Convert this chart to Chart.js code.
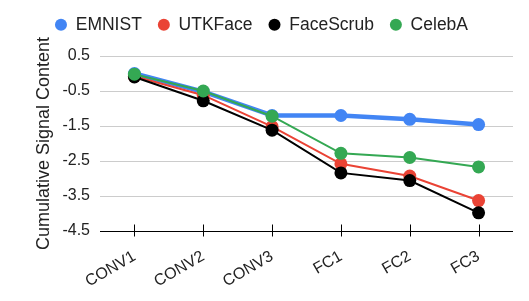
<!DOCTYPE html>
<html><head><meta charset="utf-8">
<script src="https://cdn.jsdelivr.net/npm/chart.js@4.4.0/dist/chart.umd.min.js"></script>
<style>html,body{margin:0;padding:0;background:#fff}#wrap{width:529px;height:301px}</style>
</head><body><div id="wrap"><canvas id="c"></canvas></div>
<script>
const categories = ["CONV1","CONV2","CONV3","FC1","FC2","FC3"];
const emnist = [0.0, -0.52, -1.2, -1.2, -1.31, -1.46];
const utkface = [-0.08, -0.62, -1.52, -2.58, -2.93, -3.63];
const facescrub = [-0.1, -0.78, -1.62, -2.84, -3.06, -3.98];
const celeba = [-0.02, -0.5, -1.22, -2.28, -2.4, -2.67];
const yTicks = [0.5, -0.5, -1.5, -2.5, -3.5, -4.5];

const FONT = 'Liberation Sans, Arial, sans-serif';
function ds(label, data, color, width, order){
  return {label, data, borderColor: color, backgroundColor: color, pointBackgroundColor: color,
    pointBorderColor: color, borderWidth: width, pointRadius: 6.5, pointBorderWidth: 0, pointHoverRadius: 6.5, tension: 0, order};
}
const layoutFix = {
  id: 'layoutFix',
  afterInit(chart){
    const lg = chart.legend;
    if (lg && !lg._patched){
      const orig = lg.fit;
      lg.fit = function(){ orig.call(this); this.height = 56; };
      lg._patched = true;
    }
  },
  afterLayout(chart){
    if (chart.legend) chart.legend.right = chart.width - 6;
  },
  afterDatasetsDraw(chart){
    const x = chart.scales.x, y = chart.scales.y, ctx = chart.ctx;
    ctx.save(); ctx.strokeStyle = '#000'; ctx.lineWidth = 1;
    const yb = Math.round(y.getPixelForValue(-4.5)) + 0.5;
    categories.forEach((c,i)=>{ const px = Math.round(x.getPixelForValue(i)) + 0.5;
      ctx.beginPath(); ctx.moveTo(px, yb-7); ctx.lineTo(px, yb+5); ctx.stroke(); });
    ctx.beginPath(); ctx.moveTo(x.left, yb); ctx.lineTo(x.right, yb); ctx.stroke();
    ctx.restore();
  }
};
new Chart(document.getElementById('c'), {
  type: 'line',
  data: { labels: categories, datasets: [
    ds('EMNIST', emnist, '#4285F4', 4.5, 4),
    ds('UTKFace', utkface, '#EA4335', 2, 3),
    ds('FaceScrub', facescrub, '#000000', 2, 2),
    ds('CelebA', celeba, '#34A853', 2, 1)
  ]},
  options: {
    responsive: true, maintainAspectRatio: false, animation: false,
    layout: { padding: { left: 0, right: 16, top: 0, bottom: 0 } },
    plugins: {
      legend: { position: 'top', labels: { usePointStyle: true, pointStyle: 'circle', boxWidth: 12, boxHeight: 8.5,
        padding: 16, color: '#222', font: { family: FONT, size: 17.5 },
        sort: (a,b)=>a.datasetIndex-b.datasetIndex } },
      tooltip: { enabled: false }
    },
    scales: {
      x: { offset: true, grid: { display: false, drawOnChartArea: false }, border: { display: false },
        afterFit: s => { s.height = 70; },
        ticks: { color: '#222', font: { family: FONT, size: 16 }, minRotation: 30, maxRotation: 30, padding: 8 } },
      y: { min: -4.5, max: 0.5,
        afterFit: s => { s.width = 100; },
        afterBuildTicks: (s)=>{ s.ticks = yTicks.map(v=>({value:v})); },
        grid: { color: '#cccccc', drawTicks: false, tickLength: 0 }, border: { display: false },
        ticks: { color: '#222', font: { family: FONT, size: 16 }, padding: 10,
          callback: v => v.toFixed(1) },
        title: { display: true, text: 'Cumulative Signal Content', color: '#222', font: { family: FONT, size: 18 }, padding: { top: 33, bottom: 0 } } }
    }
  },
  plugins: [layoutFix]
});
</script></body></html>
